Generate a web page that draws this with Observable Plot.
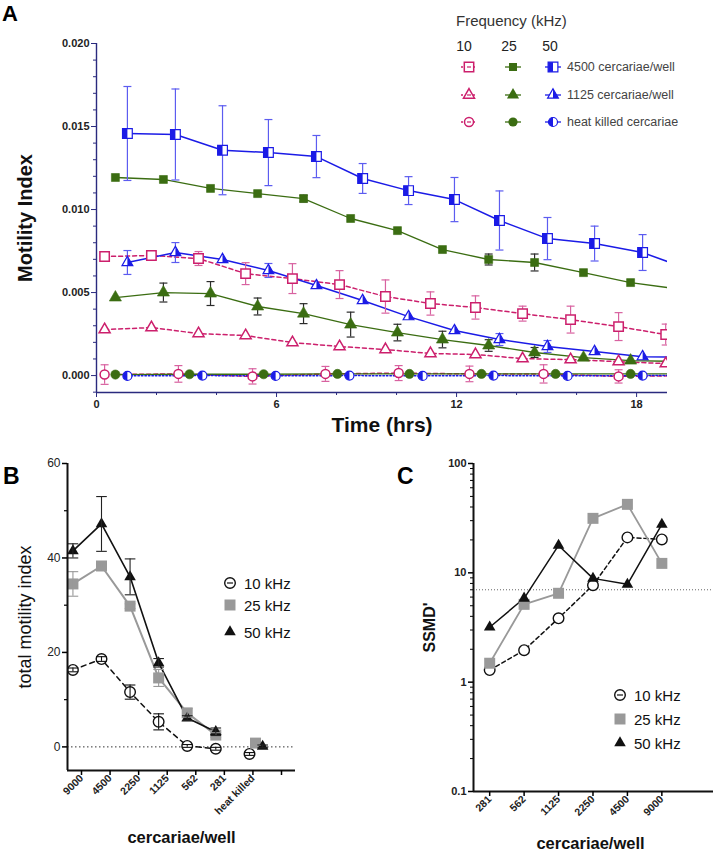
<!DOCTYPE html>
<html>
<head>
<meta charset="utf-8">
<script src="https://cdn.jsdelivr.net/npm/d3@7"></script>
<script src="https://cdn.jsdelivr.net/npm/@observablehq/plot@0.6"></script>
<style>
  html,body{margin:0;padding:0;background:#fff;}
  #fig{position:relative;width:715px;height:851px;overflow:hidden;background:#fff;}
</style>
</head>
<body>
<div id="fig"></div>
<script>
const FONT = '"Liberation Sans", Arial, Helvetica, sans-serif';

// ================= Panel A data =================
const aFreqs = ["10", "25", "50"];
const aDensityLabels = ["4500 cercariae/well", "1125 cercariae/well", "heat killed cercariae"];
const aTime10 = [0.27, 1.83, 3.40, 4.97, 6.53, 8.10, 9.63, 11.13, 12.63, 14.20, 15.80, 17.40, 18.97];
const aTime25 = [0.63, 2.23, 3.80, 5.37, 6.90, 8.47, 10.03, 11.53, 13.07, 14.60, 16.23, 17.80, 19.35];
const aTime50 = [1.03, 2.63, 4.20, 5.73, 7.33, 8.87, 10.40, 11.93, 13.43, 15.03, 16.60, 18.20, 19.75];
const aTimeHK10 = [0.27, 2.73, 5.20, 7.63, 10.07, 12.43, 14.90, 17.40, 19.87];
const aTimeHK25 = [0.63, 3.10, 5.57, 8.03, 10.43, 12.83, 15.30, 17.80, 20.27];
const aTimeHK50 = [1.03, 3.53, 5.97, 8.43, 10.87, 13.23, 15.70, 18.20, 20.67];

const a4500_10 = [0.00717, 0.00723, 0.00705, 0.00614, 0.00584, 0.00548, 0.00476, 0.00434, 0.00410, 0.00373, 0.00337, 0.00295, 0.00247];
const a4500_10Err = [0, 0, 0.00042, 0.00066, 0.0009, 0.00084, 0.0010, 0.0007, 0.0007, 0.00045, 0.00081, 0.00084, 0.00063];
const a4500_25 = [0.01193, 0.01181, 0.01127, 0.01096, 0.01066, 0.00946, 0.00873, 0.00759, 0.00699, 0.00681, 0.00620, 0.00560, 0.00522];
const a4500_25Err = [0, 0, 0, 0, 0.0002, 0, 0, 0, 0.00033, 0.00051, 0, 0, 0];
const a4500_50 = [0.01458, 0.01452, 0.01357, 0.01343, 0.01319, 0.01187, 0.01114, 0.01060, 0.00934, 0.00825, 0.00795, 0.00741, 0.00639];
const a4500_50Err = [0.00283, 0.00274, 0.00268, 0.00199, 0.00127, 0.0009, 0.00084, 0.00133, 0.00178, 0.00127, 0.00105, 0.00108, 0];

const a1125_10 = [0.00277, 0.00289, 0.00253, 0.00241, 0.00199, 0.00175, 0.00157, 0.00133, 0.00127, 0.00102, 0.00096, 0.00084, 0.00072];
const a1125_25 = [0.0047, 0.0050, 0.00494, 0.00416, 0.00373, 0.00307, 0.00259, 0.00217, 0.00181, 0.00139, 0.00108, 0.0009, 0.00085];
const a1125_25Err = [0, 0.00057, 0.00072, 0.00051, 0.0006, 0.00075, 0.0005, 0.0005, 0.00035, 0.0003, 0, 0, 0];
const a1125_50 = [0.00681, 0.00741, 0.00699, 0.00633, 0.00542, 0.00452, 0.00355, 0.00271, 0.00217, 0.00175, 0.00145, 0.00114, 0.0011];
const a1125_50Err = [0.00072, 0.0006, 0, 0.00042, 0, 0, 0, 0, 0.00036, 0.00036, 0, 0, 0];

const aHK_10 = [0.00006, 0.0001, -0.00005, 0.0001, 0.00015, 0.0001, 0.0001, -0.00005, 0];
const aHK_10Err = [0.00059, 0.0005, 0.00046, 0.00045, 0.00045, 0.00047, 0.00055, 0.0004, 0];
const aHK_25 = [0.00006, 0.00008, 0.00008, 0.0001, 0.0001, 0.0001, 0.0001, 0.0001, 0.0001];
const aHK_50 = [-0.00002, 0, -0.00002, 0, -0.00002, 0, -0.00002, 0, 0];

const aYTicks = [0, 0.005, 0.010, 0.015, 0.020];
const aXTicks = [0, 6, 12, 18];

// ================= Panel B data =================
const bCats = ["9000", "4500", "2250", "1125", "562", "281", "heat killed"];
const bLegend = ["10 kHz", "25 kHz", "50 kHz"];
const b10 = [16.3, 18.6, 11.6, 5.3, 0.2, -0.4, -1.5];
const b10Err = [0.4, 0.5, 1.5, 1.7, 0.3, 0.3, 0.3];
const b25 = [34.5, 38.3, 29.8, 14.6, 7.2, 2.5, 0.8];
const b25Err = [2.6, 0.5, 0.5, 1.8, 0.9, 0.5, 0.5];
const b50 = [41.5, 47.2, 36.0, 17.8, 6.1, 3.2, 0.1];
const b50Err = [1.5, 5.8, 3.8, 0.9, 0.5, 0.8, 0.3];
const bColumnShift = -0.3;               // points drawn left of their category tick
const bHeatKilledShift = [-0.12, 0.09, 0.34]; // dodge of the heat-killed group

// ================= Panel C data =================
const cCats = ["281", "562", "1125", "2250", "4500", "9000"];
const c10 = [1.29, 1.96, 3.84, 7.7, 21.1, 20.2];
const c25 = [1.49, 5.15, 6.5, 31.5, 42.3, 12.2];
const c50 = [3.18, 5.85, 17.8, 8.9, 7.85, 27.7];
const cThreshold = 7;

// ================= symbols =================
const capSym = {draw(c, size) { const w = Math.sqrt(size) / 2; c.moveTo(-w, 0); c.lineTo(w, 0); }};
const halfSquareL = {draw(c, size) { const s = Math.sqrt(size) / 2; c.moveTo(-s, -s); c.lineTo(0, -s); c.lineTo(0, s); c.lineTo(-s, s); c.closePath(); }};
const halfTriR = {draw(c, size) { const y = -Math.sqrt(size / (3 * Math.sqrt(3))); c.moveTo(0, 2 * y); c.lineTo(-Math.sqrt(3) * y, -y); c.lineTo(0, -y); c.closePath(); }};
const halfCircL = {draw(c, size) { const r = Math.sqrt(size / Math.PI); c.moveTo(0, -r); c.arc(0, 0, r, -Math.PI / 2, Math.PI / 2, true); c.closePath(); }};

// ================= Panel A =================
const colA = {"10": "#cc1f6c", "25": "#3b6d12", "50": "#1b1be6"};
const errColA = {"10": "#d862a0", "25": "#2b2b2b", "50": "#5c5cf0"};
const axisColA = "#2a2a7e";

const seriesA = [
  {f: "10", d: "4500", t: aTime10, v: a4500_10, e: a4500_10Err, sym: d3.symbolSquare, half: null, r: 5.3},
  {f: "25", d: "4500", t: aTime25, v: a4500_25, e: a4500_25Err, sym: d3.symbolSquare, half: null, r: 4.5},
  {f: "50", d: "4500", t: aTime50, v: a4500_50, e: a4500_50Err, sym: d3.symbolSquare, half: halfSquareL, r: 5.5},
  {f: "10", d: "1125", t: aTime10, v: a1125_10, e: null, sym: d3.symbolTriangle, half: null, r: 4.1},
  {f: "25", d: "1125", t: aTime25, v: a1125_25, e: a1125_25Err, sym: d3.symbolTriangle, half: null, r: 4.5},
  {f: "50", d: "1125", t: aTime50, v: a1125_50, e: a1125_50Err, sym: d3.symbolTriangle, half: halfTriR, r: 4.0},
  {f: "10", d: "hk", t: aTimeHK10, v: aHK_10, e: aHK_10Err, sym: d3.symbolCircle, half: null, r: 4.5},
  {f: "25", d: "hk", t: aTimeHK25, v: aHK_25, e: null, sym: d3.symbolCircle, half: null, r: 4.6},
  {f: "50", d: "hk", t: aTimeHK50, v: aHK_50, e: null, sym: d3.symbolCircle, half: halfCircL, r: 4.5}
];
const rowsOf = s => s.v.map((v, i) => ({t: s.t[i], v, e: s.e ? s.e[i] : 0}));

const marksA = [];
for (const s of seriesA) {
  const dash = s.f === "10" ? "4,3" : (s.f === "50" && s.d === "hk" ? "1.5,2" : undefined);
  marksA.push(Plot.line(rowsOf(s), {x: "t", y: "v", stroke: colA[s.f], strokeWidth: s.f === "25" ? 1.3 : 1.5, strokeDasharray: dash, clip: true}));
}
for (const s of seriesA) {
  const er = rowsOf(s).filter(r => r.e > 0);
  if (!er.length) continue;
  marksA.push(Plot.ruleX(er, {x: "t", y1: r => r.v - r.e, y2: r => r.v + r.e, stroke: errColA[s.f], strokeWidth: 1.2, clip: true}));
  marksA.push(Plot.dot(er, {x: "t", y: r => r.v + r.e, symbol: capSym, r: 4.5, stroke: errColA[s.f], strokeWidth: 1.2, fill: "none", clip: true}));
  marksA.push(Plot.dot(er, {x: "t", y: r => r.v - r.e, symbol: capSym, r: 4.5, stroke: errColA[s.f], strokeWidth: 1.2, fill: "none", clip: true}));
}
for (const s of seriesA) {
  const rows = rowsOf(s);
  if (s.f === "10") {
    marksA.push(Plot.dot(rows, {x: "t", y: "v", symbol: s.sym, r: s.r, fill: "white", stroke: colA["10"], strokeWidth: 1.5, clip: true}));
  } else if (s.f === "25") {
    marksA.push(Plot.dot(rows, {x: "t", y: "v", symbol: s.sym, r: s.r, fill: colA["25"], stroke: colA["25"], strokeWidth: 0.6, clip: true}));
  } else {
    marksA.push(Plot.dot(rows, {x: "t", y: "v", symbol: s.sym, r: s.r, fill: "white", stroke: colA["50"], strokeWidth: 1.2, clip: true}));
    marksA.push(Plot.dot(rows, {x: "t", y: "v", symbol: s.half, r: s.r, fill: colA["50"], stroke: "none", clip: true}));
  }
}

const aYMinor = d3.range(-1, 21).map(k => k / 1000).filter(v => !aYTicks.some(t => Math.abs(t - v) < 1e-9));
const aXMinor = d3.range(2, 19, 2).filter(v => !aXTicks.includes(v));

const svgA = Plot.plot({
  width: 715, height: 440,
  marginLeft: 96, marginRight: 48, marginTop: 43, marginBottom: 48,
  x: {domain: [0, 19.03]},
  y: {domain: [-0.00102, 0.020]},
  style: {fontFamily: FONT, background: "transparent", overflow: "visible"},
  marks: [
    ...marksA,
    Plot.ruleX([0], {stroke: axisColA, strokeWidth: 1.4}),
    Plot.ruleY([-0.00102], {stroke: axisColA, strokeWidth: 1.4}),
    Plot.axisY({ticks: aYTicks, tickFormat: d3.format(".3f"), tickSize: 5, tickPadding: 2, stroke: axisColA, fill: "#222", fontSize: 11, fontWeight: "bold", label: null}),
    Plot.axisY({ticks: aYMinor, tickSize: 3, tickFormat: () => null, stroke: axisColA, label: null}),
    Plot.axisX({ticks: aXTicks, tickSize: 5, tickPadding: 3, stroke: axisColA, fill: "#222", fontSize: 11, fontWeight: "bold", label: null}),
    Plot.axisX({ticks: aXMinor, tickSize: 3, tickFormat: () => null, stroke: axisColA, label: null}),
    Plot.text(["Motility Index"], {frameAnchor: "left", dx: -71, rotate: -90, textAnchor: "middle", lineAnchor: "middle", fontSize: 20, fontWeight: "bold", fill: "#111"}),
    Plot.text(["Time (hrs)"], {frameAnchor: "bottom", dy: 33, textAnchor: "middle", lineAnchor: "middle", fontSize: 21, fontWeight: "bold", fill: "#111"})
  ]
});

// Legend A
{
  const g = d3.select(svgA).append("g").attr("font-family", FONT).attr("text-anchor", "start");
  g.append("text").attr("x", 456).attr("y", 20).attr("text-anchor", "start").attr("dominant-baseline", "central").attr("font-size", 15).attr("fill", "#333").text("Frequency (kHz)");
  const colX = [469, 513, 553];
  const headX = [464, 509, 550];
  const rowY = [67, 95, 122];
  aFreqs.forEach((f, j) => g.append("text").attr("x", headX[j]).attr("y", 46).attr("text-anchor", "middle").attr("dominant-baseline", "central").attr("font-size", 14).attr("fill", "#222").text(f));
  const dens = ["4500", "1125", "hk"];
  dens.forEach((d, i) => {
    aFreqs.forEach((f, j) => {
      const s = seriesA.find(q => q.f === f && q.d === d);
      const cx = colX[j], cy = rowY[i];
      g.append("line").attr("x1", cx - 8).attr("x2", cx + 8).attr("y1", cy).attr("y2", cy)
        .attr("stroke", colA[f]).attr("stroke-width", 1.3).attr("stroke-dasharray", f === "10" ? "2,2" : null);
      const size = s.r * s.r * Math.PI;
      if (f === "10") {
        g.append("path").attr("d", d3.symbol(s.sym, size)()).attr("transform", `translate(${cx},${cy})`).attr("fill", "white").attr("stroke", colA[f]).attr("stroke-width", 1.5);
        g.append("line").attr("x1", cx - 2).attr("x2", cx + 2).attr("y1", cy).attr("y2", cy).attr("stroke", colA[f]).attr("stroke-width", 1.2);
      } else if (f === "25") {
        g.append("path").attr("d", d3.symbol(s.sym, size)()).attr("transform", `translate(${cx},${cy})`).attr("fill", colA[f]);
      } else {
        g.append("path").attr("d", d3.symbol(s.sym, size)()).attr("transform", `translate(${cx},${cy})`).attr("fill", "white").attr("stroke", colA[f]).attr("stroke-width", 1.2);
        g.append("path").attr("d", d3.symbol(s.half, size)()).attr("transform", `translate(${cx},${cy})`).attr("fill", colA[f]);
      }
    });
    g.append("text").attr("x", 567).attr("y", rowY[i]).attr("text-anchor", "start").attr("dominant-baseline", "central").attr("font-size", 12.5).attr("fill", "#444").text(aDensityLabels[i]);
  });
}

// ================= Panel B =================
const bSeries = [
  {v: b10, e: b10Err, color: "#111", errColor: "#111", sym: d3.symbolCircle, r: 5.3, fill: "white", dash: "5,4", lw: 1.5},
  {v: b25, e: b25Err, color: "#999", errColor: "#999", sym: d3.symbolSquare, r: 6.2, fill: "#999", dash: undefined, lw: 2},
  {v: b50, e: b50Err, color: "#111", errColor: "#222", sym: d3.symbolTriangle, r: 4.3, fill: "#111", dash: undefined, lw: 1.6}
];
const bRowsOf = (s, k) => s.v.map((v, i) => ({i, x: i < 6 ? i + bColumnShift : 6 + bHeatKilledShift[k], v, e: s.e[i]}));
const marksB = [];
bSeries.forEach((s, k) => marksB.push(Plot.line(bRowsOf(s, k).filter(r => r.i < 6), {x: "x", y: "v", stroke: s.color, strokeWidth: s.lw, strokeDasharray: s.dash})));
bSeries.forEach((s, k) => marksB.push(Plot.dot(bRowsOf(s, k), {x: "x", y: "v", symbol: s.sym, r: s.r, fill: s.fill, stroke: s.fill === "white" ? s.color : "none", strokeWidth: 1.4})));
bSeries.forEach((s, k) => {
  const rows = bRowsOf(s, k);
  marksB.push(Plot.ruleX(rows, {x: "x", y1: r => r.v - r.e, y2: r => r.v + r.e, stroke: s.errColor, strokeWidth: 1.1}));
  marksB.push(Plot.dot(rows, {x: "x", y: r => r.v + r.e, symbol: capSym, r: 6, stroke: s.errColor, strokeWidth: 1.1, fill: "none"}));
  marksB.push(Plot.dot(rows, {x: "x", y: r => r.v - r.e, symbol: capSym, r: 6, stroke: s.errColor, strokeWidth: 1.1, fill: "none"}));
});

const svgB = Plot.plot({
  width: 360, height: 411,
  marginLeft: 67, marginRight: 65, marginTop: 23, marginBottom: 81,
  x: {domain: [-0.49, 7.49]},
  y: {domain: [-5, 60]},
  style: {fontFamily: FONT, background: "transparent", overflow: "visible"},
  marks: [
    Plot.ruleY([0], {stroke: "#333", strokeWidth: 1, strokeDasharray: "1.5,2.5"}),
    ...marksB,
    Plot.ruleX([-0.49], {stroke: "#111", strokeWidth: 2}),
    Plot.ruleY([-5], {stroke: "#111", strokeWidth: 2}),
    Plot.axisY({ticks: [0, 20, 40, 60], tickSize: 5, tickPadding: 2, strokeWidth: 1.5, fontSize: 12, fill: "#222", label: null}),
    Plot.axisY({ticks: [10, 30, 50], tickSize: 3, strokeWidth: 1.2, tickFormat: () => null, label: null}),
    Plot.axisX({ticks: d3.range(8), tickSize: 5, tickPadding: 1, strokeWidth: 1.5, tickRotate: -45, tickFormat: i => bCats[i] ?? null, fontSize: 10.5, fontWeight: "bold", fill: "#222", label: null}),
    Plot.text(["total motility index"], {frameAnchor: "left", dx: -42, rotate: -90, textAnchor: "middle", lineAnchor: "middle", fontSize: 18, fill: "#111"}),
    Plot.text(["cercariae/well"], {frameAnchor: "bottom", dy: 67, textAnchor: "middle", lineAnchor: "middle", fontSize: 16.5, fontWeight: "bold", fill: "#111"})
  ]
});

function drawFreqLegend(svg, x, ys, series) {
  const g = d3.select(svg).append("g").attr("font-family", FONT).attr("text-anchor", "start");
  series.forEach((s, k) => {
    const size = s.r * s.r * Math.PI;
    g.append("path").attr("d", d3.symbol(s.sym, size)()).attr("transform", `translate(${x},${ys[k]})`)
      .attr("fill", s.fill).attr("stroke", s.fill === "white" ? s.color : "none").attr("stroke-width", 1.4);
    if (s.fill === "white") g.append("line").attr("x1", x - 3).attr("x2", x + 3).attr("y1", ys[k]).attr("y2", ys[k]).attr("stroke", s.color).attr("stroke-width", 1.2);
    g.append("text").attr("x", x + 14).attr("y", ys[k]).attr("text-anchor", "start").attr("dominant-baseline", "central").attr("font-size", 15).attr("fill", "#111").text(bLegend[k]);
  });
}
drawFreqLegend(svgB, 230, [143, 165, 192], bSeries);

// ================= Panel C =================
const cSeries = [
  {v: c10, color: "#111", sym: d3.symbolCircle, r: 5.3, fill: "white", dash: "4,3", lw: 1.5},
  {v: c25, color: "#999", sym: d3.symbolSquare, r: 6.2, fill: "#999", dash: undefined, lw: 1.8},
  {v: c50, color: "#111", sym: d3.symbolTriangle, r: 4.3, fill: "#111", dash: undefined, lw: 1.5}
];
const cRowsOf = s => s.v.map((v, i) => ({x: i, v}));
const cMinor = [0.1, 1, 10].flatMap(b => [2, 3, 4, 5, 6, 7, 8, 9].map(k => +(b * k).toPrecision(2)));

const svgC = Plot.plot({
  width: 355, height: 411,
  marginLeft: 113, marginRight: 2, marginTop: 23, marginBottom: 60,
  x: {domain: [-0.47, 6.5]},
  y: {type: "log", domain: [0.1, 100]},
  style: {fontFamily: FONT, background: "transparent", overflow: "visible"},
  marks: [
    Plot.ruleY([cThreshold], {stroke: "#666", strokeWidth: 1, strokeDasharray: "1,2"}),
    ...cSeries.map(s => Plot.line(cRowsOf(s), {x: "x", y: "v", stroke: s.color, strokeWidth: s.lw, strokeDasharray: s.dash})),
    ...cSeries.map(s => Plot.dot(cRowsOf(s), {x: "x", y: "v", symbol: s.sym, r: s.r, fill: s.fill, stroke: s.fill === "white" ? s.color : "none", strokeWidth: 1.4})),
    Plot.ruleX([-0.47], {stroke: "#111", strokeWidth: 2}),
    Plot.ruleY([0.1], {stroke: "#111", strokeWidth: 2}),
    Plot.axisY({ticks: [0.1, 1, 10, 100], tickFormat: d => String(d), tickSize: 5, tickPadding: 2, strokeWidth: 1.5, fontSize: 11, fontWeight: "bold", fill: "#222", label: null}),
    Plot.axisY({ticks: cMinor, tickSize: 3, strokeWidth: 1, tickFormat: () => null, label: null}),
    Plot.axisX({ticks: d3.range(6), tickSize: 5, tickPadding: 1, strokeWidth: 1.5, tickRotate: -45, tickFormat: i => cCats[i] ?? null, fontSize: 10.5, fontWeight: "bold", fill: "#222", label: null}),
    Plot.text(["SSMD'"], {frameAnchor: "left", dx: -44, rotate: -90, textAnchor: "middle", lineAnchor: "middle", fontSize: 16, fontWeight: "bold", fill: "#111"}),
    Plot.text(["cercariae/well"], {frameAnchor: "bottom", dy: 52, dx: -3, textAnchor: "middle", lineAnchor: "middle", fontSize: 16.5, fontWeight: "bold", fill: "#111"})
  ]
});
drawFreqLegend(svgC, 260, [255, 279, 303], cSeries);

// ================= assemble =================
const fig = document.getElementById("fig");
[[svgA, 0, 0], [svgB, 0, 440], [svgC, 360, 440]].forEach(([s, l, t]) => {
  s.style.position = "absolute"; s.style.left = l + "px"; s.style.top = t + "px";
  fig.appendChild(s);
});
const over = d3.select(fig).append("svg").attr("width", 715).attr("height", 851)
  .style("position", "absolute").style("left", "0px").style("top", "0px").style("pointer-events", "none")
  .attr("font-family", FONT).attr("font-weight", "bold").attr("fill", "#000").attr("text-anchor", "start");
over.append("text").attr("x", 2).attr("y", 21).attr("font-size", 22).text("A");
over.append("text").attr("x", 3).attr("y", 484).attr("font-size", 23).text("B");
over.append("text").attr("x", 397).attr("y", 484).attr("font-size", 23).text("C");
</script>
</body>
</html>
